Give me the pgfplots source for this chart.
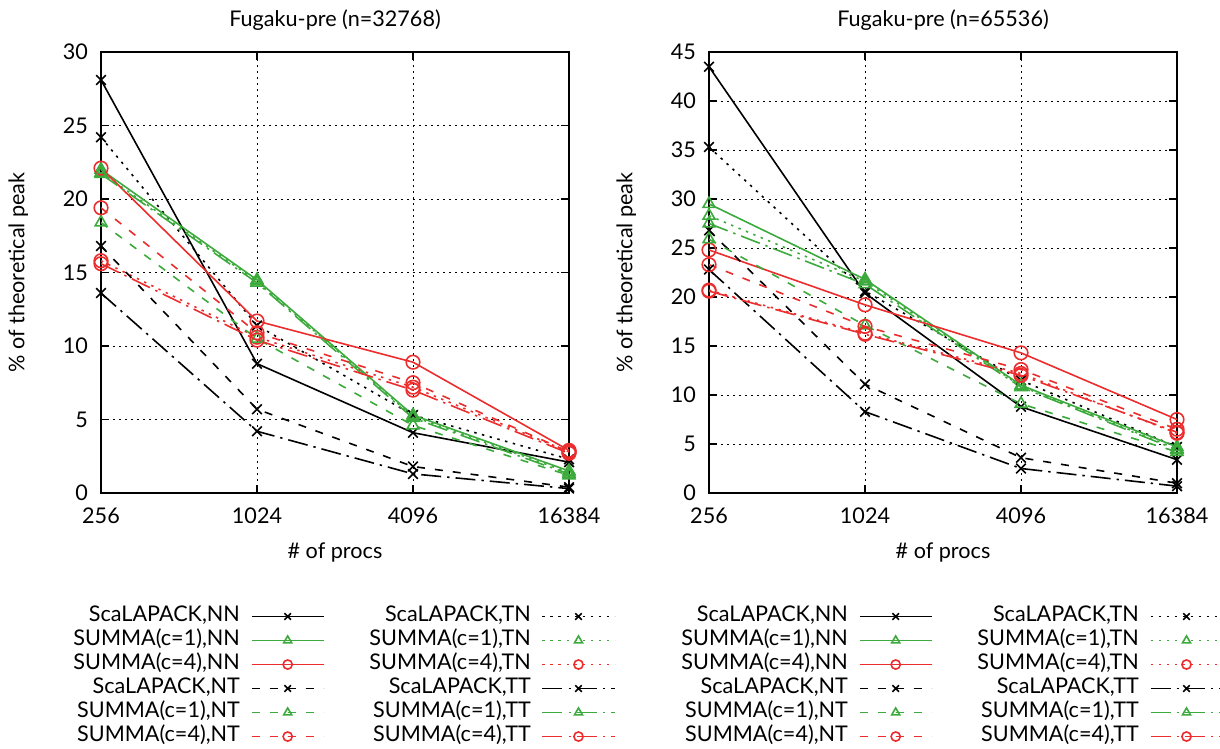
\documentclass[border=0pt]{standalone}
\usepackage{pgfplots}
\pgfplotsset{compat=1.18}
\usepackage{pgfplotstable}
\usepackage{fontspec}
\setmainfont{Lato}
\definecolor{gg}{RGB}{60,170,60}
\definecolor{rr}{RGB}{235,45,45}
\pgfplotstableread{
p sNN sTN sNT sTT aNN aTN aNT aTT bNN bTN bNT bTT
256 28.1 24.2 16.8 13.6 22.0 21.8 18.4 21.7 22.1 15.8 19.4 15.6
1024 8.8 11.4 5.7 4.2 14.5 14.4 10.5 14.3 11.7 10.6 10.9 10.4
4096 4.1 5.3 1.8 1.3 5.3 5.2 4.6 5.1 8.9 7.2 7.5 7.0
16384 2.1 2.3 0.4 0.3 1.5 1.4 1.2 1.3 2.9 2.8 2.8 2.7
}\leftdata
\pgfplotstableread{
p sNN sTN sNT sTT aNN aTN aNT aTT bNN bTN bNT bTT
256 43.5 35.3 26.8 22.8 29.5 28.3 25.9 27.5 24.8 20.7 23.3 20.6
1024 20.4 20.6 11.1 8.3 21.8 21.6 17.1 21.3 19.2 16.3 17.0 16.2
4096 8.8 11.5 3.6 2.5 11.0 10.9 9.1 10.8 14.3 12.2 12.6 12.0
16384 3.4 4.7 1.0 0.7 4.7 4.5 4.2 4.4 7.5 6.1 6.5 6.2
}\rightdata
\tikzset{
  psca/.style={black, mark=x, mark options={solid}},
  psa/.style={gg, mark=triangle, mark options={solid}},
  psb/.style={rr, mark=o, mark options={solid}},
  pNN/.style={solid},
  pTN/.style={dash pattern=on 1.2pt off 2.8pt},
  pNT/.style={dash pattern=on 4pt off 5pt},
  pTT/.style={dash pattern=on 10pt off 3pt on 1.2pt off 3pt},
}
\pgfplotsset{
  legend image code/.code={\draw[mark repeat=2,mark phase=2,#1,mark size=2.3pt] plot coordinates {(0pt,0pt) (18pt,0pt) (36pt,0pt)};},
  every axis title shift=0pt,
  every axis/.append style={
    scale only axis, width=234pt, height=220.5pt, anchor=south west,
    xmin=256, xmax=16384,
    xtick={256,1024,4096,16384}, xticklabels={256,1024,4096,16384},
    ymin=0,
    /pgf/number format/assume math mode=true,
    tick align=inside, major tick length=4pt, minor tick num=0,
    xtick pos=both, ytick pos=both,
    axis line style={line width=1pt},
    grid=major, major grid style={black, line width=0.5pt, dash pattern=on 0.8pt off 2.2pt},
    tick style={black, line width=0.6pt},
    font=\fontsize{10.8pt}{13pt}\selectfont,
    xticklabel style={yshift=-4pt},
    yticklabel style={xshift=-3pt},
    title style={at={(axis description cs:0.5,1.0726)}, anchor=center},
    xlabel={\# of procs}, ylabel={\% of theoretical peak},
    xlabel style={at={(axis description cs:0.5,-0.136)}, anchor=center},
    ylabel style={at={(axis description cs:-0.177,0.5)}, anchor=center},
    legend columns=2,
    legend plot pos=right,
    legend style={at={(axis description cs:-0.062,-0.252)}, anchor=north west, draw=none, fill=none,
      inner sep=0pt, row sep=0pt,
      nodes={inner sep=0.5pt, text height=8pt, text depth=3pt},
      cells={anchor=east},
    },
  },
  every axis plot/.append style={line width=0.8pt, mark size=3.4pt},
}
\newcommand{\allplots}[1]{%
  \addplot[psca,pNN] table[x=p,y=sNN]{#1}; \addlegendentry{ScaLAPACK,NN}
  \addplot[psca,pTN] table[x=p,y=sTN]{#1}; \addlegendentry{ScaLAPACK,TN}
  \addplot[psa,pNN] table[x=p,y=aNN]{#1}; \addlegendentry{SUMMA(c=1),NN}
  \addplot[psa,pTN] table[x=p,y=aTN]{#1}; \addlegendentry{SUMMA(c=1),TN}
  \addplot[psb,pNN] table[x=p,y=bNN]{#1}; \addlegendentry{SUMMA(c=4),NN}
  \addplot[psb,pTN] table[x=p,y=bTN]{#1}; \addlegendentry{SUMMA(c=4),TN}
  \addplot[psca,pNT] table[x=p,y=sNT]{#1}; \addlegendentry{ScaLAPACK,NT}
  \addplot[psca,pTT] table[x=p,y=sTT]{#1}; \addlegendentry{ScaLAPACK,TT}
  \addplot[psa,pNT] table[x=p,y=aNT]{#1}; \addlegendentry{SUMMA(c=1),NT}
  \addplot[psa,pTT] table[x=p,y=aTT]{#1}; \addlegendentry{SUMMA(c=1),TT}
  \addplot[psb,pNT] table[x=p,y=bNT]{#1}; \addlegendentry{SUMMA(c=4),NT}
  \addplot[psb,pTT] table[x=p,y=bTT]{#1}; \addlegendentry{SUMMA(c=4),TT}
}
\begin{document}
\begin{tikzpicture}
\path[use as bounding box] (0,0) rectangle (610pt,-374.5pt);
\begin{axis}[xmode=log, log basis x=2, at={(50.5pt,-246.5pt)}, ymax=30, ytick={0,5,...,30},
  title={Fugaku-pre (n=32768)},
  legend style={/tikz/every even column/.append style={column sep=22pt},
    /tikz/every odd column/.append style={column sep=5pt}}]
\allplots{\leftdata}
\end{axis}
\begin{axis}[xmode=log, log basis x=2, at={(354.5pt,-246.5pt)}, ymax=45, ytick={0,5,...,45},
  title={Fugaku-pre (n=65536)},
  legend style={/tikz/every even column/.append style={column sep=22pt},
    /tikz/every odd column/.append style={column sep=5pt}}]
\allplots{\rightdata}
\end{axis}
\end{tikzpicture}
\end{document}
